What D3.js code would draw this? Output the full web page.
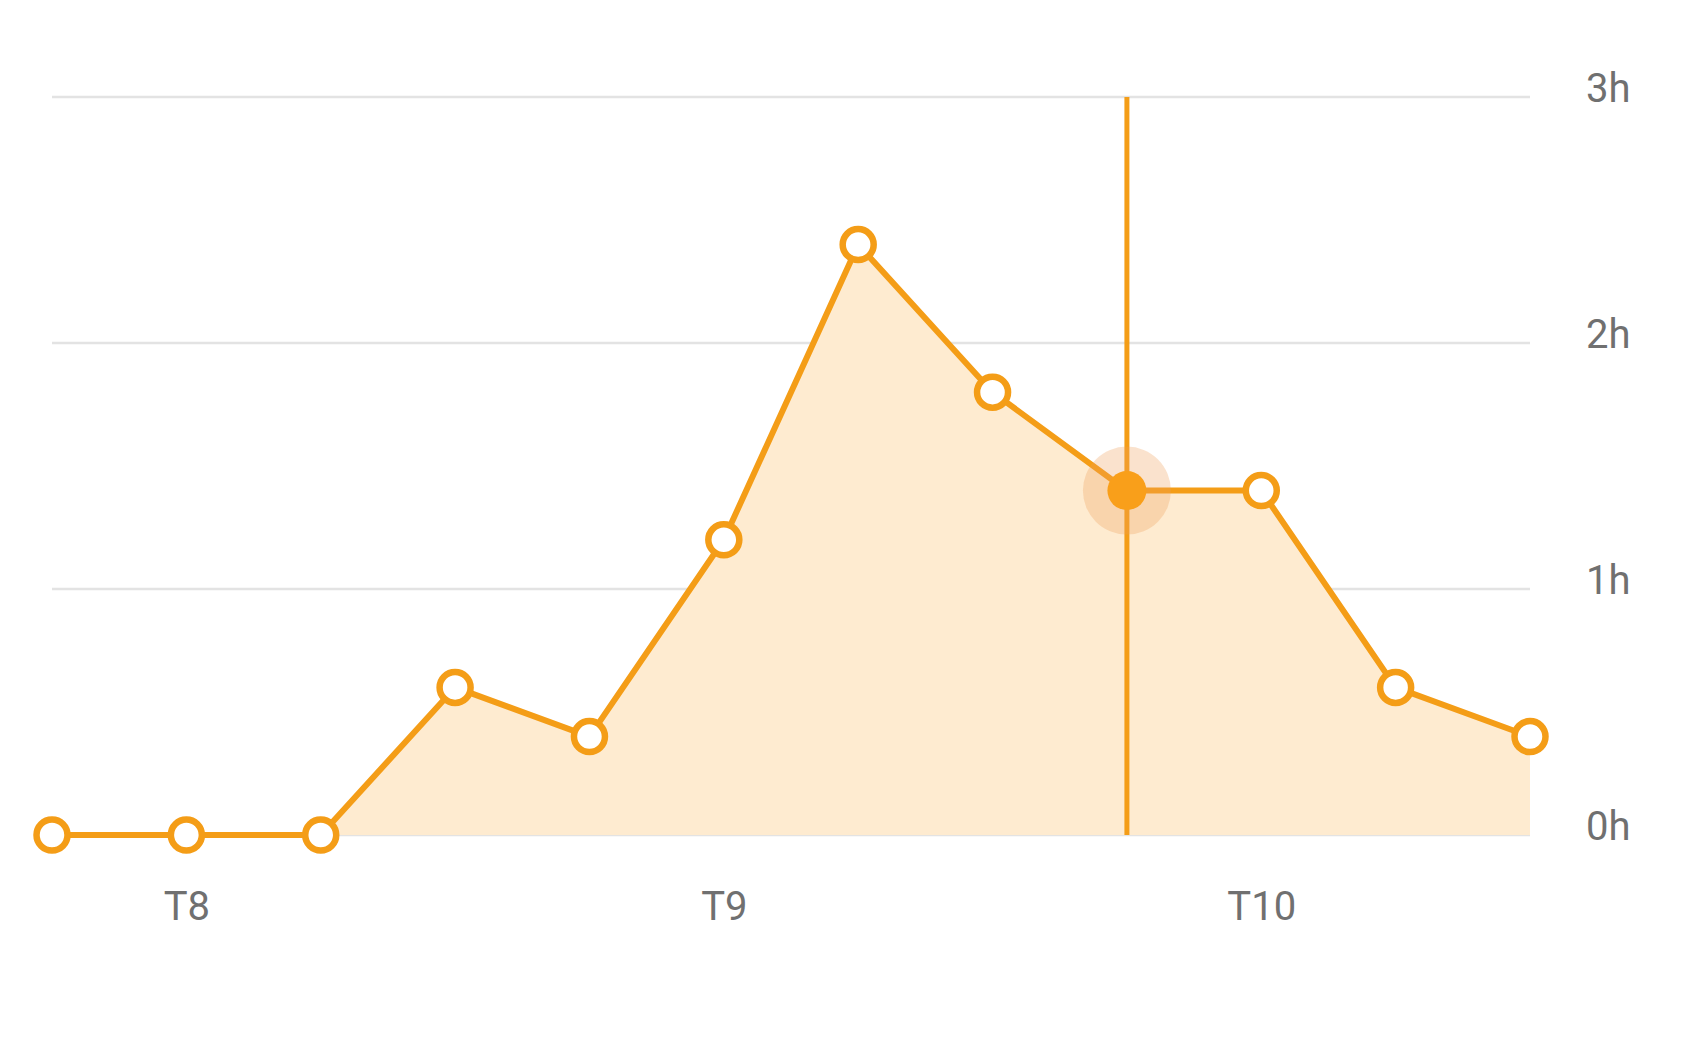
<!DOCTYPE html>
<html><head><meta charset="utf-8">
<script src="https://cdn.jsdelivr.net/npm/d3@7"></script>
<style>
html,body{margin:0;padding:0;background:#fff;}
svg text{font-family:Roboto,"Open Sans",sans-serif;fill:#707070;}
</style></head>
<body>
<svg id="chart" width="1689" height="1050"></svg>
<script>
const categories = ["p1","p2","p3","p4","p5","p6","p7","p8","p9","p10","p11","p12"];
const values = [0, 0, 0, 0.6, 0.4, 1.2, 2.4, 1.8, 1.4, 1.4, 0.6, 0.4];
const xTickCats = ["p2","p6","p10"];
const xTickLabels = ["T8","T9","T10"];
const yTicks = [0,1,2,3];
const yTickLabels = ["0h","1h","2h","3h"];
const activeIndex = 8;

const svg = d3.select("#chart");
const x = d3.scalePoint().domain(categories).range([52, 1530]);
const y = d3.scaleLinear().domain([0,3]).range([835, 97]);
const orange = "#f49d17";
const pts = values.map((v,i)=>({cat:categories[i], v, i}));

// gridlines
svg.append("g").selectAll("line").data(yTicks).join("line")
  .attr("x1", 52).attr("x2", 1530)
  .attr("y1", d=>y(d)).attr("y2", d=>y(d))
  .attr("stroke", "#e3e3e3").attr("stroke-width", 2.5);

// y labels
const yAxis = d3.axisRight(y).tickValues(yTicks).tickFormat((d,i)=>yTickLabels[i]).tickSize(0).tickPadding(0);
const gy = svg.append("g").attr("transform","translate(1586,0)").call(yAxis);
gy.select(".domain").remove();
gy.selectAll("text").attr("font-size", 40).attr("dy", "0.1em").attr("text-anchor","start").attr("fill","#6e6e6e");

// x labels
const xAxis = d3.axisBottom(x).tickValues(xTickCats).tickFormat((d,i)=>xTickLabels[i]).tickSize(0).tickPadding(0);
const gx = svg.append("g").attr("transform","translate(0,890)").call(xAxis);
gx.select(".domain").remove();
gx.selectAll("text").attr("font-size", 40).attr("dy", "0.75em").attr("fill","#6e6e6e");

// area
const area = d3.area().x(d=>x(d.cat)).y0(y(0)).y1(d=>y(d.v));
svg.append("path").datum(pts).attr("d", area).attr("fill", "#feebd0");

// line
const line = d3.line().x(d=>x(d.cat)).y(d=>y(d.v));
svg.append("path").datum(pts).attr("d", line).attr("fill","none")
  .attr("stroke", orange).attr("stroke-width", 6).attr("stroke-linejoin","round");

// vertical cursor line
const ap = pts[activeIndex];
svg.append("line").attr("x1", x(ap.cat)).attr("x2", x(ap.cat))
  .attr("y1", y(3)).attr("y2", y(0)).attr("stroke", orange).attr("stroke-width", 5);

// markers
svg.append("g").selectAll("circle").data(pts.filter(d=>d.i!==activeIndex)).join("circle")
  .attr("cx", d=>x(d.cat))
  .attr("cy", d=>y(d.v))
  .attr("r", 15.5).attr("fill","#fff").attr("stroke", orange).attr("stroke-width", 6.5);

// active marker
svg.append("circle").attr("cx", x(ap.cat)).attr("cy", y(ap.v)).attr("r", 44).attr("fill", "rgba(240,160,90,0.3)");
svg.append("circle").attr("cx", x(ap.cat)).attr("cy", y(ap.v)).attr("r", 19.5).attr("fill", "#f99f1a");
</script>
</body></html>
